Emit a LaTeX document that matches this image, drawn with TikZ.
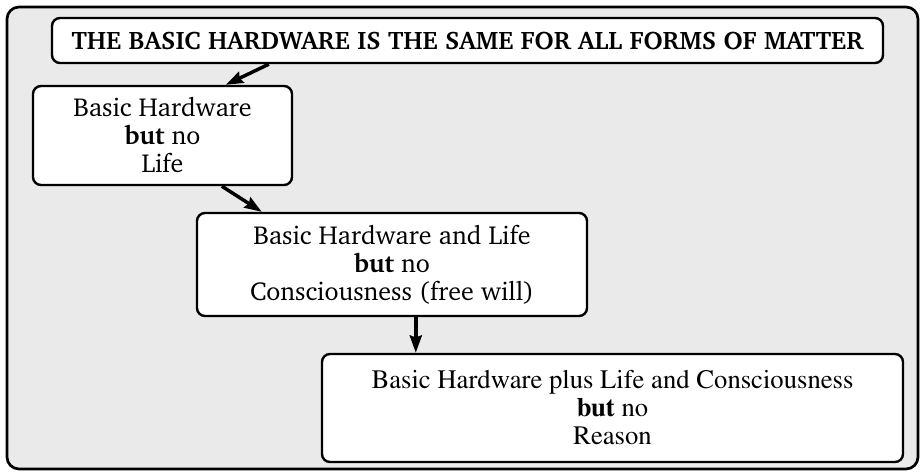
\documentclass[tikz,border=0pt]{standalone}
\usepackage[T1]{fontenc}
\usepackage{charter}
\usetikzlibrary{arrows.meta,positioning}
\definecolor{bggray}{RGB}{234,234,234}
\tikzset{
  level/.style={draw, line width=1.8pt, rounded corners=6pt, fill=white,
    align=center, inner sep=0pt, font=\fontsize{19.5}{21}\selectfont},
  arr/.style={line width=2.6pt, -{Stealth[length=13pt,width=9pt,inset=1.5pt]}}
}
\begin{document}
\begin{tikzpicture}[x=0.75pt,y=-0.75pt]
  \useasboundingbox (0,0) rectangle (922,472);
  \draw[line width=2pt, rounded corners=9pt, fill=bggray] (7,7) rectangle (918,469);
  \node[level, minimum width=623.25pt, minimum height=33.75pt, font=\fontsize{19}{21}\selectfont\bfseries]
    (title) at (467.5,40.5) {THE BASIC HARDWARE IS THE SAME FOR ALL FORMS OF MATTER};
  \node[level, minimum width=194.25pt, minimum height=74.25pt] (nolife) at (162.5,135.5)
    {Basic Hardware\\\textbf{but} no\\Life};
  \node[level, minimum width=292.5pt, minimum height=77.25pt] (noconsc) at (392,264.5)
    {Basic Hardware and Life\\\textbf{but} no\\Consciousness (free will)};
  \node[level, minimum width=435.75pt, minimum height=81pt, font=\fontsize{20}{21}\fontfamily{ptm}\selectfont]
    (noreason) at (612.5,408)
    {Basic Hardware plus Life and Consciousness\\\textbf{but} no\\Reason};
  % arrows between the levels
  \draw[arr] ([xshift=163.5pt]title.south west) -- ([xshift=145.5pt]nolife.north west);
  \draw[arr] ([xshift=142.5pt]nolife.south west) -- ([xshift=49.5pt]noconsc.north west);
  \draw[arr] ([xshift=165pt]noconsc.south west) -- ([xshift=71.25pt]noreason.north west);
\end{tikzpicture}
\end{document}
